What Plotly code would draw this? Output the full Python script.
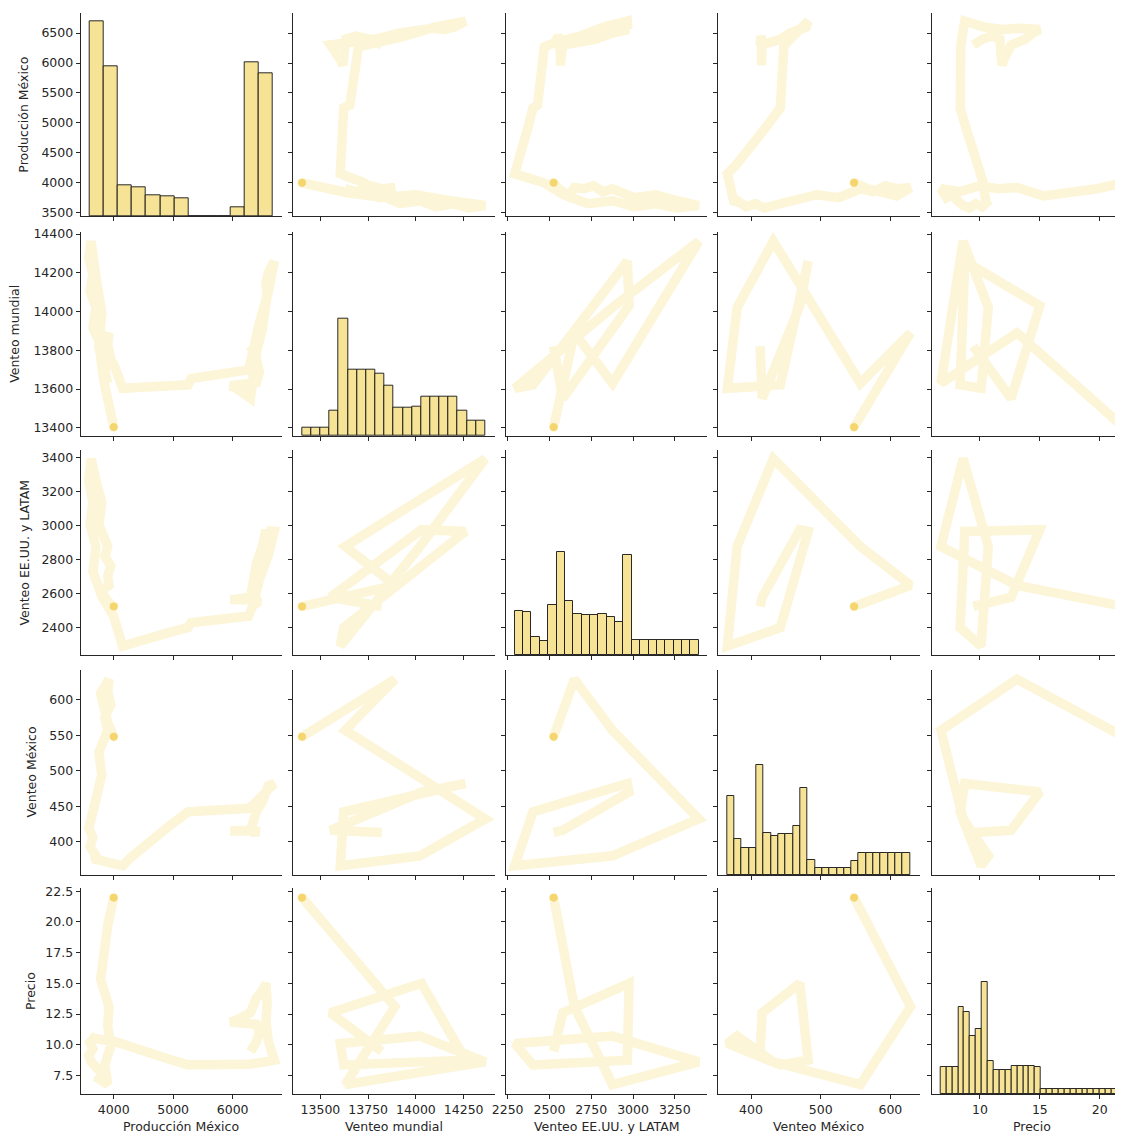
import numpy as np
import plotly.graph_objects as go

# ---------------- data ----------------
variables = ["Producción México", "Venteo mundial", "Venteo EE.UU. y LATAM",
             "Venteo México", "Precio"]

# yearly values (time ordered) of the four yearly variables
venteo_mundial = [13821, 13552, 14030, 14260, 13622, 13604, 14021, 14363, 13630, 13890, 13404]
venteo_eeuu_latam = [2525, 2579, 2976, 2966, 2401, 2292, 2877, 3393, 2877, 2649, 2525]
venteo_mexico = [413, 416, 470, 482, 442, 366, 380, 432, 557, 629, 548]
precio = [9.45, 12.6, 15.0, 8.74, 8.35, 10.1, 10.7, 8.6, 6.75, 13.1, 21.98]

# finer readings (time ordered) used for the panels with Producción México
pm_produccion = [6300, 6400, 6450, 6400, 5960, 6050, 6300, 6350, 6400, 6500, 6560, 6580,
                 6560, 6600, 6700, 6600, 6450, 6350, 6270, 5300, 5250, 4950, 4650, 4290,
                 4150, 4000, 3800, 3650, 3700, 3600, 3650, 3580, 3620, 3700, 3800, 3750,
                 3900, 3850, 3950, 3900, 3920, 3780, 3830, 3900, 4000]
pm_venteo_mundial = [13821, 13754, 13686, 13633, 13617, 13606, 13552, 13671, 13791, 13910,
                     14030, 14087, 14145, 14202, 14260, 14100, 13941, 13781, 13699, 13654,
                     13622, 13617, 13613, 13607, 13604, 13729, 13812, 13917, 14021, 14106,
                     14192, 14277, 14363, 14180, 13996, 13813, 13630, 13695, 13760, 13825,
                     13890, 13768, 13647, 13525, 13404]
pm_venteo_eeuu = [2525, 2538, 2552, 2563, 2566, 2568, 2579, 2678, 2777, 2877, 2976, 2973,
                  2971, 2968, 2966, 2825, 2683, 2542, 2469, 2429, 2401, 2374, 2346, 2309,
                  2292, 2467, 2584, 2731, 2877, 3006, 3135, 3264, 3393, 3264, 3135, 3006,
                  2877, 2820, 2763, 2706, 2649, 2618, 2587, 2556, 2525]
pm_venteo_mexico = [413, 414, 414, 415, 415, 415, 416, 429, 443, 456, 470, 473, 476, 479,
                    482, 472, 462, 452, 447, 444, 442, 423, 404, 378, 366, 370, 373, 376,
                    380, 393, 406, 419, 432, 463, 494, 526, 557, 575, 593, 611, 629, 609,
                    588, 568, 548]
pm_precio = [9.45, 10.24, 11.03, 11.66, 11.84, 11.97, 12.6, 13.2, 13.8, 14.4, 15.0, 13.44,
             11.87, 10.31, 8.74, 8.64, 8.55, 8.45, 8.40, 8.37, 8.35, 8.79, 9.23, 9.82, 10.1,
             10.28, 10.4, 10.55, 10.7, 10.18, 9.65, 9.13, 8.6, 8.14, 7.68, 7.21, 6.75, 8.34,
             9.93, 11.51, 13.1, 15.32, 17.54, 19.76, 21.98]

# histogram counts and the data span of each variable
hist_counts = [
    [959, 740, 150, 140, 104, 99, 86, 0, 0, 0, 44, 760, 704],
    [41, 41, 41, 124, 576, 323, 323, 323, 307, 248, 139, 139, 142, 192, 192, 192, 192, 124, 75, 75],
    [213, 208, 86, 67, 246, 501, 263, 200, 195, 195, 200, 185, 159, 488, 72, 72, 72, 72, 72, 72, 72, 72],
    [387, 176, 133, 133, 537, 203, 192, 198, 198, 237, 423, 73, 33, 33, 33, 33, 33, 70,
     106, 106, 106, 106, 106, 106, 106],
    [130, 130, 130, 421, 397, 284, 316, 543, 159, 117, 117, 117, 135, 135, 135, 135, 130,
     23, 23, 23, 23, 23, 23, 23, 23, 23, 23, 23, 23, 23, 23],
]
hist_span = [(3597, 6680), (13404, 14363), (2292, 3393), (365.6, 628.2), (6.72, 21.98)]
hist_top = 1000  # shared count range of the diagonal panels

# axis ranges and ticks
axis_range = [(3445, 6830), (13358, 14412), (2240, 3444), (353, 642), (5.98, 22.77)]
tick_vals_y = [[3500, 4000, 4500, 5000, 5500, 6000, 6500],
               [13400, 13600, 13800, 14000, 14200, 14400],
               [2400, 2600, 2800, 3000, 3200, 3400],
               [400, 450, 500, 550, 600],
               [7.5, 10.0, 12.5, 15.0, 17.5, 20.0, 22.5]]
tick_text_y = [["3500", "4000", "4500", "5000", "5500", "6000", "6500"],
               ["13400", "13600", "13800", "14000", "14200", "14400"],
               ["2400", "2600", "2800", "3000", "3200", "3400"],
               ["400", "450", "500", "550", "600"],
               ["7.5", "10.0", "12.5", "15.0", "17.5", "20.0", "22.5"]]
tick_vals_x = [[4000, 5000, 6000], [13500, 13750, 14000, 14250],
               [2250, 2500, 2750, 3000, 3250], [400, 500, 600], [10, 15, 20]]
tick_text_x = [["4000", "5000", "6000"], ["13500", "13750", "14000", "14250"],
               ["2250", "2500", "2750", "3000", "3250"], ["400", "500", "600"],
               ["10", "15", "20"]]

# ---------------- styling ----------------
WIN_W, WIN_H = 1123, 1134
OFF = 8                     # the page body offsets the figure by 8 px
W, H = WIN_W - OFF, WIN_H - OFF
FONT = "DejaVu Sans"
TXT = "#262626"
TRAIL = "rgb(252,245,215)"
POINT = "#F5D66E"
BAR = "#F6E396"
# positions in window pixels
col_left = [80.7, 293.3, 506.0, 718.3, 931.7]
cell_w = 201.3
row_top = [13.3, 231.7, 450.0, 670.0, 888.0]
row_bot = [216.0, 436.0, 655.0, 875.0, 1094.0]
ylabel_x = [24, 15, 24, 31, 30]
xlabel_y = 1126


def px(v):
    return (v - OFF) / W


def py(v):
    return 1 - (v - OFF) / H


yearly = {1: venteo_mundial, 2: venteo_eeuu_latam, 3: venteo_mexico, 4: precio}
fine = {0: pm_produccion, 1: pm_venteo_mundial, 2: pm_venteo_eeuu, 3: pm_venteo_mexico, 4: pm_precio}

fig = go.Figure()
layout = {}
annotations = []

for r in range(5):
    for c in range(5):
        i = r * 5 + c + 1
        xa = "x" if i == 1 else f"x{i}"
        ya = "y" if i == 1 else f"y{i}"
        xkey = "xaxis" if i == 1 else f"xaxis{i}"
        ykey = "yaxis" if i == 1 else f"yaxis{i}"
        x0 = px(col_left[c])
        x1 = min(px(col_left[c] + cell_w), 1.0)
        xr = list(axis_range[c])
        if x1 >= 1.0:
            # the last column is cut by the picture edge
            span = axis_range[c][1] - axis_range[c][0]
            xr[1] = axis_range[c][0] + span * (WIN_W - col_left[c]) / cell_w
        common = dict(showgrid=False, zeroline=False, showline=True, linecolor=TXT,
                      linewidth=1, ticks="outside", ticklen=4, tickwidth=1, tickcolor=TXT,
                      tickfont=dict(family=FONT, size=12.5, color=TXT))
        layout[xkey] = dict(domain=[x0, x1], anchor=ya, range=xr,
                            tickvals=tick_vals_x[c], ticktext=tick_text_x[c],
                            showticklabels=(r == 4), **common)
        ydom = [py(row_bot[r]), py(row_top[r])]
        if r == c:
            lo, hi = axis_range[r]
            tv = [(v - lo) / (hi - lo) * hist_top for v in tick_vals_y[r]]
            layout[ykey] = dict(domain=ydom, anchor=xa, range=[0, hist_top],
                                tickvals=tv, ticktext=tick_text_y[r],
                                showticklabels=(c == 0), **common)
            counts = hist_counts[r]
            edges = np.linspace(hist_span[r][0], hist_span[r][1], len(counts) + 1)
            centers = (edges[:-1] + edges[1:]) / 2
            fig.add_trace(go.Bar(x=centers, y=counts, width=np.diff(edges),
                                 marker=dict(color=BAR, line=dict(color="rgba(20,20,20,0.9)", width=1)),
                                 xaxis=xa, yaxis=ya, showlegend=False, hoverinfo="skip"))
        else:
            layout[ykey] = dict(domain=ydom, anchor=xa, range=list(axis_range[r]),
                                tickvals=tick_vals_y[r], ticktext=tick_text_y[r],
                                showticklabels=(c == 0), **common)
            if r == 0 or c == 0:
                xs, ys = fine[c], fine[r]
            else:
                xs, ys = yearly[c], yearly[r]
            fig.add_trace(go.Scatter(x=xs, y=ys, mode="lines",
                                     line=dict(color=TRAIL, width=9.5, shape="linear"),
                                     xaxis=xa, yaxis=ya, showlegend=False, hoverinfo="skip"))
            fig.add_trace(go.Scatter(x=[xs[-1]], y=[ys[-1]], mode="markers",
                                     marker=dict(color=POINT, size=9, line=dict(color="white", width=0.6)),
                                     xaxis=xa, yaxis=ya, showlegend=False, hoverinfo="skip"))

for k in range(5):
    annotations.append(dict(text=variables[k], xref="paper", yref="paper",
                            x=px(col_left[k] + cell_w / 2), y=py(xlabel_y),
                            xanchor="center", yanchor="middle", showarrow=False,
                            font=dict(family=FONT, size=12.5, color=TXT)))
    annotations.append(dict(text=variables[k], xref="paper", yref="paper",
                            x=px(ylabel_x[k]), y=py((row_top[k] + row_bot[k]) / 2),
                            xanchor="center", yanchor="middle", textangle=-90, showarrow=False,
                            font=dict(family=FONT, size=12.5, color=TXT)))

fig.update_layout(**layout)
fig.update_layout(width=W, height=H, margin=dict(l=0, r=0, t=0, b=0, pad=0, autoexpand=False),
                  paper_bgcolor="white", plot_bgcolor="white", showlegend=False,
                  bargap=0, annotations=annotations,
                  font=dict(family=FONT, size=12.5, color=TXT))
fig.write_html("out.html")
